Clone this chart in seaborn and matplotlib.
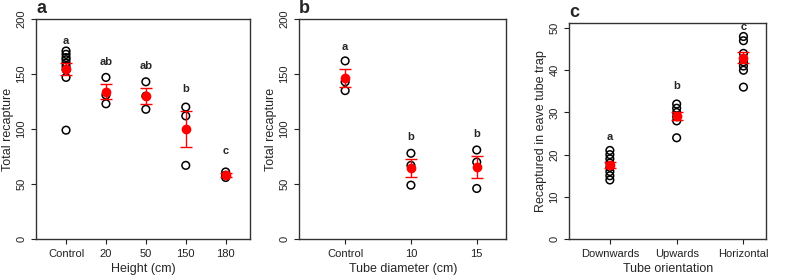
import matplotlib
matplotlib.use("Agg")
from matplotlib import pyplot as plt
import seaborn as sns
import pandas as pd

# panel a: height
height_cats = ["Control", "20", "50", "150", "180"]
height_pts = [
    [171, 168, 165, 163, 160, 157, 154, 147, 99],
    [147, 131, 123],
    [143, 130, 118],
    [120, 112, 67],
    [61, 58, 56],
]
height_mean = [155, 134, 130, 100, 58.5]
height_se = [5.5, 6.8, 7, 16, 2]
height_letters = ["a", "ab", "ab", "b", "c"]

# panel b: tube diameter
diam_cats = ["Control", "10", "15"]
diam_pts = [
    [162, 143, 135],
    [78, 67, 49],
    [81, 70, 46],
]
diam_mean = [146.5, 64.5, 65.5]
diam_se = [8, 8.4, 10.4]
diam_letters = ["a", "b", "b"]

# panel c: tube orientation
orient_cats = ["Downwards", "Upwards", "Horizontal"]
orient_pts = [
    [14, 15, 16, 17, 18, 19, 20, 21],
    [32, 31, 30, 29, 28, 24],
    [48, 47, 44, 42, 41, 40, 36],
]
orient_mean = [17.5, 29.2, 43]
orient_se = [0.75, 1.0, 1.3]
orient_letters = ["a", "b", "c"]

sns.set_style("white")
plt.rcParams['font.family'] = ['Liberation Sans', 'DejaVu Sans']

fig = plt.figure(figsize=(7.85, 2.77), dpi=100)
axes = [
    fig.add_axes([0.046, 0.137, 0.273, 0.794]),
    fig.add_axes([0.381, 0.137, 0.264, 0.794]),
    fig.add_axes([0.725, 0.137, 0.251, 0.780]),
]

panels = [
    ("a", height_cats, height_pts, height_mean, height_se, height_letters,
     "Height (cm)", "Total recapture", (0, 200), [0, 50, 100, 150, 200], (-0.75, 4.62), 20),
    ("b", diam_cats, diam_pts, diam_mean, diam_se, diam_letters,
     "Tube diameter (cm)", "Total recapture", (0, 200), [0, 50, 100, 150, 200], (-0.7, 2.45), 20),
    ("c", orient_cats, orient_pts, orient_mean, orient_se, orient_letters,
     "Tube orientation", "Recaptured in eave tube trap", (0, 51.2), [0, 10, 20, 30, 40, 50], (-0.61, 2.34), 6),
]

for ax, (tag, cats, pts, means, se, letters, xlab, ylab, ylim, yticks, xlim, off) in zip(axes, panels):
    df = pd.DataFrame({
        "group": [c for c, p in zip(cats, pts) for _ in p],
        "value": [v for p in pts for v in p],
    })
    sns.stripplot(data=df, x="group", y="value", order=cats, jitter=False,
                  facecolors="none", edgecolor="black", linewidth=1.1, size=5.5,
                  ax=ax, zorder=2)
    pos = list(range(len(cats)))
    ax.errorbar(pos, means, yerr=se, fmt="o", color="#ff0000", ms=6,
                elinewidth=1, capsize=4, capthick=1, zorder=3)
    for x, m, s, lab in zip(pos, means, se, letters):
        ax.text(x, m + s + off, lab, ha="center", va="center",
                fontsize=8, fontweight="bold")
    ax.set_ylim(*ylim)
    ax.set_xlim(*xlim)
    ax.set_yticks(yticks)
    ax.set_yticklabels([str(t) for t in yticks], rotation=90, va="center")
    ax.set_xlabel(xlab, fontsize=9, labelpad=3)
    ax.set_ylabel(ylab, fontsize=9, labelpad=2)
    ax.tick_params(axis="both", labelsize=8, length=3.5, width=0.8,
                   direction="out", bottom=True, left=True, colors="#222222")
    for sp in ax.spines.values():
        sp.set_color("#333333")
        sp.set_linewidth(1)
    ax.text(0.0, 1.01, tag, transform=ax.transAxes, fontsize=13,
            fontweight="bold", ha="left", va="bottom")

fig.savefig("out.png", dpi=100)
